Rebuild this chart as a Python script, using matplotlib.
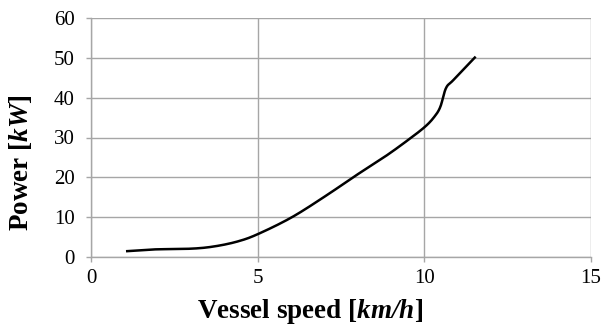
import matplotlib
matplotlib.use("Agg")
import matplotlib.pyplot as plt
import numpy as np

plt.rcParams['font.family'] = ['Liberation Serif', 'DejaVu Serif']
plt.rcParams['mathtext.fontset'] = 'custom'
plt.rcParams['mathtext.rm'] = 'Liberation Serif'
plt.rcParams['mathtext.bf'] = 'Liberation Serif:bold'
plt.rcParams['mathtext.it'] = 'Liberation Serif:italic'
plt.rcParams['mathtext.bfit'] = 'Liberation Serif:italic:bold'

speed = [1.05, 1.88, 3.03, 3.73, 4.42, 5.02, 6.03, 7.07, 7.88, 8.8, 9.5, 10.02, 10.3, 10.48, 10.65, 10.88, 11.54]
power = [1.45, 1.9, 2.1, 2.7, 3.95, 5.8, 10.0, 15.5, 20.1, 25.1, 29.3, 32.7, 35.2, 37.7, 42.4, 44.5, 50.3]


def smooth(x, y, n=20):
    # Catmull-Rom rendering of the polyline (Excel-style smoothed line)
    x = np.asarray(x, float)
    y = np.asarray(y, float)
    P = np.column_stack([x, y])
    P = np.vstack([P[0] - (P[1] - P[0]), P, P[-1] + (P[-1] - P[-2])])
    out = []
    t = np.linspace(0, 1, n, endpoint=False)[:, None]
    for i in range(1, len(P) - 2):
        p0, p1, p2, p3 = P[i - 1], P[i], P[i + 1], P[i + 2]
        seg = 0.5 * ((2 * p1) + (-p0 + p2) * t + (2 * p0 - 5 * p1 + 4 * p2 - p3) * t**2
                     + (-p0 + 3 * p1 - 3 * p2 + p3) * t**3)
        out.append(seg)
    out.append(P[-2][None, :])
    out = np.vstack(out)
    return out[:, 0], out[:, 1]


fig = plt.figure(figsize=(6.01, 3.31), dpi=100)
ax = fig.add_axes([91/601, 1-257/331, 500/601, 239/331])
sx, sy = smooth(speed, power)
ax.plot(sx, sy, color='black', lw=1.8, solid_capstyle='butt')
ax.set_xlim(0, 15)
ax.set_ylim(0, 60)
ax.set_xticks([0, 5, 10, 15])
ax.set_yticks(range(0, 61, 10))
ax.grid(True, color='#a6a6a6', lw=1.0)
ax.set_axisbelow(True)
for s in ['top', 'right']:
    ax.spines[s].set_visible(False)
for s in ['left', 'bottom']:
    ax.spines[s].set_color('#a6a6a6')
    ax.spines[s].set_linewidth(1.0)
ax.tick_params(axis='both', colors='#a6a6a6', labelcolor='black', labelsize=15, length=3.6, width=1.0, direction='out')
ax.tick_params(axis='x', pad=5)
ax.tick_params(axis='y', pad=8)
ax.set_xlabel(r'Vessel speed [$\mathbfit{km/h}$]', fontsize=19.5, fontweight='bold')
ax.set_ylabel(r'Power [$\mathbfit{kW}$]', fontsize=19.5, fontweight='bold')
ax.xaxis.set_label_coords(0.438, -0.167)
ax.yaxis.set_label_coords(-0.113, 0.395)
fig.savefig('out.png', dpi=100)
